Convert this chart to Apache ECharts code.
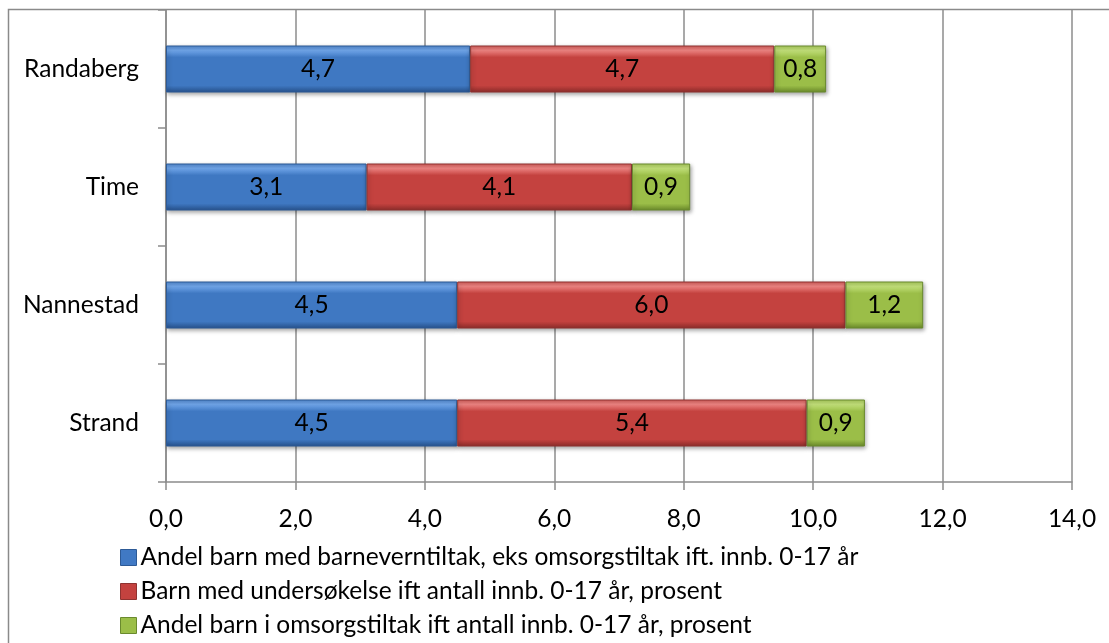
<!DOCTYPE html>
<html><head><meta charset="utf-8">
<script src="https://cdn.jsdelivr.net/npm/echarts@6/dist/echarts.min.js"></script>
<style>html,body{margin:0;padding:0;background:#fff}#c{width:1109px;height:643px}</style>
</head><body><div id="c"></div>
<script>
const categories = ['Strand', 'Nannestad', 'Time', 'Randaberg'];
const seriesNames = [
  'Andel barn med barneverntiltak, eks omsorgstiltak ift. innb. 0-17 år',
  'Barn med undersøkelse ift antall innb. 0-17 år, prosent',
  'Andel barn i omsorgstiltak ift antall innb. 0-17 år, prosent'
];
const blueValues = [4.5, 4.5, 3.1, 4.7];
const redValues = [5.4, 6.0, 4.1, 4.7];
const greenValues = [0.9, 1.2, 0.9, 0.8];
const xTicks = [0, 2, 4, 6, 8, 10, 12, 14];

const FONT = 'Lato, "Open Sans", sans-serif';
const FS = 24.5;
const fmt = v => Number(v).toFixed(1).replace('.', ',');
function grad(top, hi, mid, bottom) {
  return {type: 'linear', x: 0, y: 0, x2: 0, y2: 1, colorStops: [
    {offset: 0, color: top}, {offset: 0.1, color: hi}, {offset: 0.25, color: mid},
    {offset: 0.85, color: mid}, {offset: 1, color: bottom}
  ]};
}
const styles = [
  {c: grad('#4f86cc', '#72a8ec', '#3f78c2', '#27518c'), b: '#2d5a96', legend: '#4079c4'},
  {c: grad('#d05a57', '#f08684', '#c4423f', '#8c2c2a'), b: '#8f3331', legend: '#c4423f'},
  {c: grad('#a8c95a', '#c4e27c', '#9bbe48', '#6a8a2a'), b: '#6a8a2e', legend: '#9bbe48'}
];
const dataSets = [blueValues, redValues, greenValues];

const chart = echarts.init(document.getElementById('c'), null, {renderer: 'canvas'});
chart.setOption({
  animation: false,
  backgroundColor: '#fff',
  graphic: [{
    type: 'rect', shape: {x: 8.5, y: 9.5, width: 1200, height: 700},
    style: {fill: 'none', stroke: '#8a8a8a', lineWidth: 1.5}, z: -10
  }],
  grid: {left: 166, right: 37, top: 10, bottom: 161, containLabel: false},
  xAxis: {
    type: 'value', min: 0, max: 14, interval: 2,
    axisLine: {show: true, lineStyle: {color: '#8c8c8c', width: 1.5}},
    axisTick: {show: true, length: 8, lineStyle: {color: '#8c8c8c', width: 1.5}},
    splitLine: {show: true, lineStyle: {color: '#8c8c8c', width: 1.5}},
    axisLabel: {margin: 25, fontFamily: FONT, fontSize: FS, color: '#000',
      formatter: v => xTicks.includes(v) ? fmt(v) : ''}
  },
  yAxis: {
    type: 'category', data: categories,
    axisLine: {show: true, lineStyle: {color: '#8c8c8c', width: 1.5}},
    axisTick: {show: true, length: 8, lineStyle: {color: '#8c8c8c', width: 1.5}},
    axisLabel: {margin: 27, fontFamily: FONT, fontSize: FS, color: '#000'}
  },
  legend: {
    orient: 'vertical', left: 115, top: 540, itemGap: 9,
    itemWidth: 16, itemHeight: 16,
    textStyle: {fontFamily: FONT, fontSize: FS, color: '#000', padding: [0, 0, 0, -1]},
    data: seriesNames.map((n, i) => ({name: n, icon: 'rect',
      itemStyle: {color: styles[i].legend, borderColor: styles[i].b, borderWidth: 1}}))
  },
  series: seriesNames.map((n, i) => ({
    name: n, type: 'bar', stack: 'total', barWidth: 47,
    data: dataSets[i],
    itemStyle: {color: styles[i].c, borderColor: styles[i].b, borderWidth: 1,
      shadowColor: 'rgba(0,0,0,0.35)', shadowBlur: 4, shadowOffsetX: 1, shadowOffsetY: 2},
    label: {show: true, position: 'inside', fontFamily: FONT, fontSize: FS, color: '#000',
      formatter: p => fmt(p.value)}
  }))
});
</script></body></html>
